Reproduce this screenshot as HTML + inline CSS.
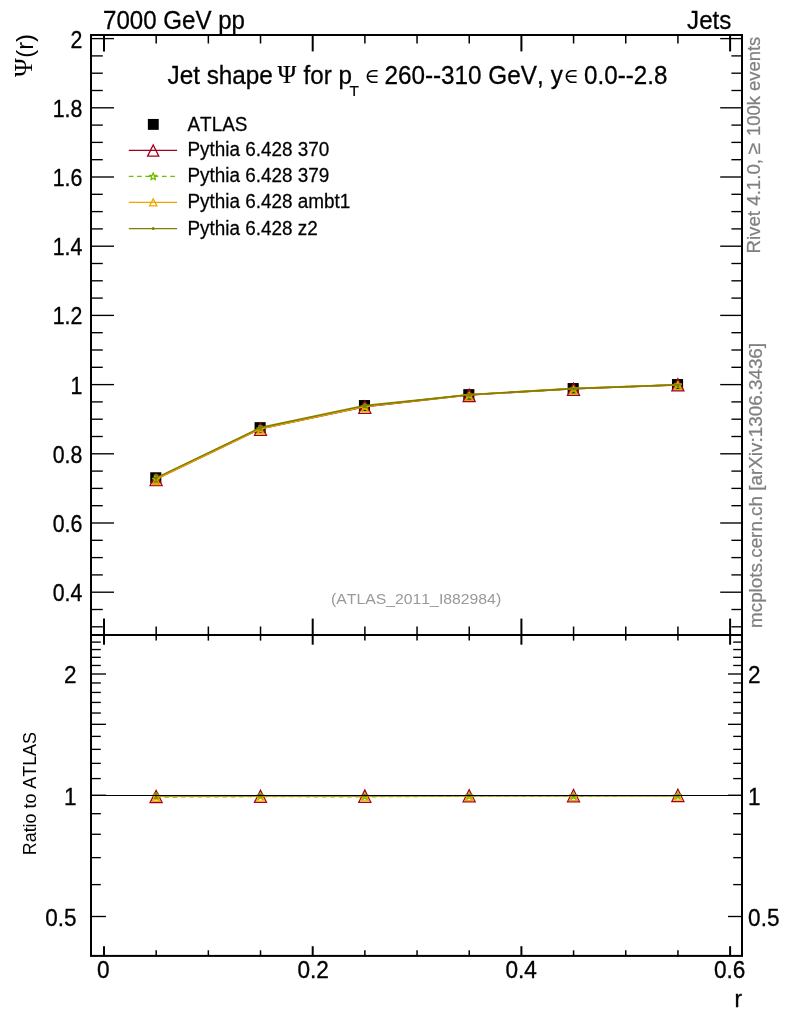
<!DOCTYPE html>
<html lang="en"><head><meta charset="utf-8"><title>Jet shape plot</title>
<style>html,body{margin:0;padding:0;background:#fff;}body{width:786px;height:1024px;overflow:hidden;}svg{display:block;}text{font-family:"Liberation Sans",sans-serif;fill:#000;font-kerning:none;}.sym{font-family:"Liberation Serif",serif;}.in{font-family:"DejaVu Serif",serif;}.g{fill:#808080;stroke:#808080;stroke-width:0.25px;}.g2{fill:#999;}</style>
</head><body>
<svg width="786" height="1024" viewBox="0 0 786 1024" role="img" aria-label="Jet shape plot">
<rect x="0" y="0" width="786" height="1024" fill="#fff"/>
<g stroke="#000" stroke-width="2" fill="none" stroke-linecap="butt">
<rect x="91.0" y="35.0" width="651.0" height="920.9"/>
<line x1="91.0" y1="635.0" x2="742.0" y2="635.0"/>
</g>
<g stroke="#000" fill="none"><line x1="91.00" y1="626.80" x2="102.80" y2="626.80" stroke-width="1.35"/><line x1="731.40" y1="626.80" x2="742.00" y2="626.80" stroke-width="1.35"/><line x1="91.00" y1="609.50" x2="102.80" y2="609.50" stroke-width="1.35"/><line x1="731.40" y1="609.50" x2="742.00" y2="609.50" stroke-width="1.35"/><line x1="91.00" y1="592.20" x2="114.00" y2="592.20" stroke-width="1.35"/><line x1="720.20" y1="592.20" x2="742.00" y2="592.20" stroke-width="1.35"/><line x1="91.00" y1="574.90" x2="102.80" y2="574.90" stroke-width="1.35"/><line x1="731.40" y1="574.90" x2="742.00" y2="574.90" stroke-width="1.35"/><line x1="91.00" y1="557.60" x2="102.80" y2="557.60" stroke-width="1.35"/><line x1="731.40" y1="557.60" x2="742.00" y2="557.60" stroke-width="1.35"/><line x1="91.00" y1="540.30" x2="102.80" y2="540.30" stroke-width="1.35"/><line x1="731.40" y1="540.30" x2="742.00" y2="540.30" stroke-width="1.35"/><line x1="91.00" y1="523.00" x2="114.00" y2="523.00" stroke-width="1.35"/><line x1="720.20" y1="523.00" x2="742.00" y2="523.00" stroke-width="1.35"/><line x1="91.00" y1="505.70" x2="102.80" y2="505.70" stroke-width="1.35"/><line x1="731.40" y1="505.70" x2="742.00" y2="505.70" stroke-width="1.35"/><line x1="91.00" y1="488.40" x2="102.80" y2="488.40" stroke-width="1.35"/><line x1="731.40" y1="488.40" x2="742.00" y2="488.40" stroke-width="1.35"/><line x1="91.00" y1="471.10" x2="102.80" y2="471.10" stroke-width="1.35"/><line x1="731.40" y1="471.10" x2="742.00" y2="471.10" stroke-width="1.35"/><line x1="91.00" y1="453.80" x2="114.00" y2="453.80" stroke-width="1.35"/><line x1="720.20" y1="453.80" x2="742.00" y2="453.80" stroke-width="1.35"/><line x1="91.00" y1="436.50" x2="102.80" y2="436.50" stroke-width="1.35"/><line x1="731.40" y1="436.50" x2="742.00" y2="436.50" stroke-width="1.35"/><line x1="91.00" y1="419.20" x2="102.80" y2="419.20" stroke-width="1.35"/><line x1="731.40" y1="419.20" x2="742.00" y2="419.20" stroke-width="1.35"/><line x1="91.00" y1="401.90" x2="102.80" y2="401.90" stroke-width="1.35"/><line x1="731.40" y1="401.90" x2="742.00" y2="401.90" stroke-width="1.35"/><line x1="91.00" y1="384.60" x2="114.00" y2="384.60" stroke-width="1.35"/><line x1="720.20" y1="384.60" x2="742.00" y2="384.60" stroke-width="1.35"/><line x1="91.00" y1="367.30" x2="102.80" y2="367.30" stroke-width="1.35"/><line x1="731.40" y1="367.30" x2="742.00" y2="367.30" stroke-width="1.35"/><line x1="91.00" y1="350.00" x2="102.80" y2="350.00" stroke-width="1.35"/><line x1="731.40" y1="350.00" x2="742.00" y2="350.00" stroke-width="1.35"/><line x1="91.00" y1="332.70" x2="102.80" y2="332.70" stroke-width="1.35"/><line x1="731.40" y1="332.70" x2="742.00" y2="332.70" stroke-width="1.35"/><line x1="91.00" y1="315.40" x2="114.00" y2="315.40" stroke-width="1.35"/><line x1="720.20" y1="315.40" x2="742.00" y2="315.40" stroke-width="1.35"/><line x1="91.00" y1="298.10" x2="102.80" y2="298.10" stroke-width="1.35"/><line x1="731.40" y1="298.10" x2="742.00" y2="298.10" stroke-width="1.35"/><line x1="91.00" y1="280.80" x2="102.80" y2="280.80" stroke-width="1.35"/><line x1="731.40" y1="280.80" x2="742.00" y2="280.80" stroke-width="1.35"/><line x1="91.00" y1="263.50" x2="102.80" y2="263.50" stroke-width="1.35"/><line x1="731.40" y1="263.50" x2="742.00" y2="263.50" stroke-width="1.35"/><line x1="91.00" y1="246.20" x2="114.00" y2="246.20" stroke-width="1.35"/><line x1="720.20" y1="246.20" x2="742.00" y2="246.20" stroke-width="1.35"/><line x1="91.00" y1="228.90" x2="102.80" y2="228.90" stroke-width="1.35"/><line x1="731.40" y1="228.90" x2="742.00" y2="228.90" stroke-width="1.35"/><line x1="91.00" y1="211.60" x2="102.80" y2="211.60" stroke-width="1.35"/><line x1="731.40" y1="211.60" x2="742.00" y2="211.60" stroke-width="1.35"/><line x1="91.00" y1="194.30" x2="102.80" y2="194.30" stroke-width="1.35"/><line x1="731.40" y1="194.30" x2="742.00" y2="194.30" stroke-width="1.35"/><line x1="91.00" y1="177.00" x2="114.00" y2="177.00" stroke-width="1.35"/><line x1="720.20" y1="177.00" x2="742.00" y2="177.00" stroke-width="1.35"/><line x1="91.00" y1="159.70" x2="102.80" y2="159.70" stroke-width="1.35"/><line x1="731.40" y1="159.70" x2="742.00" y2="159.70" stroke-width="1.35"/><line x1="91.00" y1="142.40" x2="102.80" y2="142.40" stroke-width="1.35"/><line x1="731.40" y1="142.40" x2="742.00" y2="142.40" stroke-width="1.35"/><line x1="91.00" y1="125.10" x2="102.80" y2="125.10" stroke-width="1.35"/><line x1="731.40" y1="125.10" x2="742.00" y2="125.10" stroke-width="1.35"/><line x1="91.00" y1="107.80" x2="114.00" y2="107.80" stroke-width="1.35"/><line x1="720.20" y1="107.80" x2="742.00" y2="107.80" stroke-width="1.35"/><line x1="91.00" y1="90.50" x2="102.80" y2="90.50" stroke-width="1.35"/><line x1="731.40" y1="90.50" x2="742.00" y2="90.50" stroke-width="1.35"/><line x1="91.00" y1="73.20" x2="102.80" y2="73.20" stroke-width="1.35"/><line x1="731.40" y1="73.20" x2="742.00" y2="73.20" stroke-width="1.35"/><line x1="91.00" y1="55.90" x2="102.80" y2="55.90" stroke-width="1.35"/><line x1="731.40" y1="55.90" x2="742.00" y2="55.90" stroke-width="1.35"/><line x1="91.00" y1="38.60" x2="114.00" y2="38.60" stroke-width="1.35"/><line x1="720.20" y1="38.60" x2="742.00" y2="38.60" stroke-width="1.35"/><line x1="104.00" y1="35.00" x2="104.00" y2="51.40" stroke-width="2"/><line x1="104.00" y1="618.60" x2="104.00" y2="635.00" stroke-width="2"/><line x1="104.00" y1="635.00" x2="104.00" y2="644.70" stroke-width="2"/><line x1="104.00" y1="946.20" x2="104.00" y2="955.90" stroke-width="2"/><line x1="156.18" y1="35.00" x2="156.18" y2="43.50" stroke-width="1.5"/><line x1="156.18" y1="626.50" x2="156.18" y2="635.00" stroke-width="1.5"/><line x1="156.18" y1="635.00" x2="156.18" y2="640.60" stroke-width="1.5"/><line x1="156.18" y1="950.30" x2="156.18" y2="955.90" stroke-width="1.5"/><line x1="208.35" y1="35.00" x2="208.35" y2="43.50" stroke-width="1.5"/><line x1="208.35" y1="626.50" x2="208.35" y2="635.00" stroke-width="1.5"/><line x1="208.35" y1="635.00" x2="208.35" y2="640.60" stroke-width="1.5"/><line x1="208.35" y1="950.30" x2="208.35" y2="955.90" stroke-width="1.5"/><line x1="260.53" y1="35.00" x2="260.53" y2="43.50" stroke-width="1.5"/><line x1="260.53" y1="626.50" x2="260.53" y2="635.00" stroke-width="1.5"/><line x1="260.53" y1="635.00" x2="260.53" y2="640.60" stroke-width="1.5"/><line x1="260.53" y1="950.30" x2="260.53" y2="955.90" stroke-width="1.5"/><line x1="312.70" y1="35.00" x2="312.70" y2="51.40" stroke-width="2"/><line x1="312.70" y1="618.60" x2="312.70" y2="635.00" stroke-width="2"/><line x1="312.70" y1="635.00" x2="312.70" y2="644.70" stroke-width="2"/><line x1="312.70" y1="946.20" x2="312.70" y2="955.90" stroke-width="2"/><line x1="364.88" y1="35.00" x2="364.88" y2="43.50" stroke-width="1.5"/><line x1="364.88" y1="626.50" x2="364.88" y2="635.00" stroke-width="1.5"/><line x1="364.88" y1="635.00" x2="364.88" y2="640.60" stroke-width="1.5"/><line x1="364.88" y1="950.30" x2="364.88" y2="955.90" stroke-width="1.5"/><line x1="417.05" y1="35.00" x2="417.05" y2="43.50" stroke-width="1.5"/><line x1="417.05" y1="626.50" x2="417.05" y2="635.00" stroke-width="1.5"/><line x1="417.05" y1="635.00" x2="417.05" y2="640.60" stroke-width="1.5"/><line x1="417.05" y1="950.30" x2="417.05" y2="955.90" stroke-width="1.5"/><line x1="469.23" y1="35.00" x2="469.23" y2="43.50" stroke-width="1.5"/><line x1="469.23" y1="626.50" x2="469.23" y2="635.00" stroke-width="1.5"/><line x1="469.23" y1="635.00" x2="469.23" y2="640.60" stroke-width="1.5"/><line x1="469.23" y1="950.30" x2="469.23" y2="955.90" stroke-width="1.5"/><line x1="521.40" y1="35.00" x2="521.40" y2="51.40" stroke-width="2"/><line x1="521.40" y1="618.60" x2="521.40" y2="635.00" stroke-width="2"/><line x1="521.40" y1="635.00" x2="521.40" y2="644.70" stroke-width="2"/><line x1="521.40" y1="946.20" x2="521.40" y2="955.90" stroke-width="2"/><line x1="573.58" y1="35.00" x2="573.58" y2="43.50" stroke-width="1.5"/><line x1="573.58" y1="626.50" x2="573.58" y2="635.00" stroke-width="1.5"/><line x1="573.58" y1="635.00" x2="573.58" y2="640.60" stroke-width="1.5"/><line x1="573.58" y1="950.30" x2="573.58" y2="955.90" stroke-width="1.5"/><line x1="625.75" y1="35.00" x2="625.75" y2="43.50" stroke-width="1.5"/><line x1="625.75" y1="626.50" x2="625.75" y2="635.00" stroke-width="1.5"/><line x1="625.75" y1="635.00" x2="625.75" y2="640.60" stroke-width="1.5"/><line x1="625.75" y1="950.30" x2="625.75" y2="955.90" stroke-width="1.5"/><line x1="677.93" y1="35.00" x2="677.93" y2="43.50" stroke-width="1.5"/><line x1="677.93" y1="626.50" x2="677.93" y2="635.00" stroke-width="1.5"/><line x1="677.93" y1="635.00" x2="677.93" y2="640.60" stroke-width="1.5"/><line x1="677.93" y1="950.30" x2="677.93" y2="955.90" stroke-width="1.5"/><line x1="730.10" y1="35.00" x2="730.10" y2="51.40" stroke-width="2"/><line x1="730.10" y1="618.60" x2="730.10" y2="635.00" stroke-width="2"/><line x1="730.10" y1="635.00" x2="730.10" y2="644.70" stroke-width="2"/><line x1="730.10" y1="946.20" x2="730.10" y2="955.90" stroke-width="2"/><line x1="91.00" y1="916.50" x2="106.00" y2="916.50" stroke-width="1.35"/><line x1="728.00" y1="916.50" x2="742.00" y2="916.50" stroke-width="1.35"/><line x1="91.00" y1="884.61" x2="100.80" y2="884.61" stroke-width="1.35"/><line x1="733.20" y1="884.61" x2="742.00" y2="884.61" stroke-width="1.35"/><line x1="91.00" y1="857.64" x2="100.80" y2="857.64" stroke-width="1.35"/><line x1="733.20" y1="857.64" x2="742.00" y2="857.64" stroke-width="1.35"/><line x1="91.00" y1="834.28" x2="100.80" y2="834.28" stroke-width="1.35"/><line x1="733.20" y1="834.28" x2="742.00" y2="834.28" stroke-width="1.35"/><line x1="91.00" y1="813.68" x2="100.80" y2="813.68" stroke-width="1.35"/><line x1="733.20" y1="813.68" x2="742.00" y2="813.68" stroke-width="1.35"/><line x1="91.00" y1="795.25" x2="106.00" y2="795.25" stroke-width="1.35"/><line x1="728.00" y1="795.25" x2="742.00" y2="795.25" stroke-width="1.35"/><line x1="91.00" y1="778.58" x2="100.80" y2="778.58" stroke-width="1.35"/><line x1="733.20" y1="778.58" x2="742.00" y2="778.58" stroke-width="1.35"/><line x1="91.00" y1="763.36" x2="100.80" y2="763.36" stroke-width="1.35"/><line x1="733.20" y1="763.36" x2="742.00" y2="763.36" stroke-width="1.35"/><line x1="91.00" y1="749.36" x2="100.80" y2="749.36" stroke-width="1.35"/><line x1="733.20" y1="749.36" x2="742.00" y2="749.36" stroke-width="1.35"/><line x1="91.00" y1="736.39" x2="100.80" y2="736.39" stroke-width="1.35"/><line x1="733.20" y1="736.39" x2="742.00" y2="736.39" stroke-width="1.35"/><line x1="91.00" y1="724.32" x2="106.00" y2="724.32" stroke-width="1.35"/><line x1="728.00" y1="724.32" x2="742.00" y2="724.32" stroke-width="1.35"/><line x1="91.00" y1="713.03" x2="100.80" y2="713.03" stroke-width="1.35"/><line x1="733.20" y1="713.03" x2="742.00" y2="713.03" stroke-width="1.35"/><line x1="91.00" y1="702.43" x2="100.80" y2="702.43" stroke-width="1.35"/><line x1="733.20" y1="702.43" x2="742.00" y2="702.43" stroke-width="1.35"/><line x1="91.00" y1="692.43" x2="100.80" y2="692.43" stroke-width="1.35"/><line x1="733.20" y1="692.43" x2="742.00" y2="692.43" stroke-width="1.35"/><line x1="91.00" y1="682.97" x2="100.80" y2="682.97" stroke-width="1.35"/><line x1="733.20" y1="682.97" x2="742.00" y2="682.97" stroke-width="1.35"/><line x1="91.00" y1="674.00" x2="106.00" y2="674.00" stroke-width="1.35"/><line x1="728.00" y1="674.00" x2="742.00" y2="674.00" stroke-width="1.35"/><line x1="91.00" y1="665.47" x2="100.80" y2="665.47" stroke-width="1.35"/><line x1="733.20" y1="665.47" x2="742.00" y2="665.47" stroke-width="1.35"/><line x1="91.00" y1="657.33" x2="100.80" y2="657.33" stroke-width="1.35"/><line x1="733.20" y1="657.33" x2="742.00" y2="657.33" stroke-width="1.35"/><line x1="91.00" y1="649.55" x2="100.80" y2="649.55" stroke-width="1.35"/><line x1="733.20" y1="649.55" x2="742.00" y2="649.55" stroke-width="1.35"/><line x1="91.00" y1="642.11" x2="100.80" y2="642.11" stroke-width="1.35"/><line x1="733.20" y1="642.11" x2="742.00" y2="642.11" stroke-width="1.35"/></g>
<text transform="translate(82.30,47.60) scale(0.87,1)" font-size="24.5" text-anchor="end" stroke="#000" stroke-width="0.35">2</text>
<text transform="translate(82.30,116.80) scale(0.87,1)" font-size="24.5" text-anchor="end" stroke="#000" stroke-width="0.35">1.8</text>
<text transform="translate(82.30,186.00) scale(0.87,1)" font-size="24.5" text-anchor="end" stroke="#000" stroke-width="0.35">1.6</text>
<text transform="translate(82.30,255.20) scale(0.87,1)" font-size="24.5" text-anchor="end" stroke="#000" stroke-width="0.35">1.4</text>
<text transform="translate(82.30,324.40) scale(0.87,1)" font-size="24.5" text-anchor="end" stroke="#000" stroke-width="0.35">1.2</text>
<text transform="translate(82.30,393.60) scale(0.87,1)" font-size="24.5" text-anchor="end" stroke="#000" stroke-width="0.35">1</text>
<text transform="translate(82.30,462.80) scale(0.87,1)" font-size="24.5" text-anchor="end" stroke="#000" stroke-width="0.35">0.8</text>
<text transform="translate(82.30,532.00) scale(0.87,1)" font-size="24.5" text-anchor="end" stroke="#000" stroke-width="0.35">0.6</text>
<text transform="translate(82.30,601.20) scale(0.87,1)" font-size="24.5" text-anchor="end" stroke="#000" stroke-width="0.35">0.4</text>
<text transform="translate(76.60,683.00) scale(0.955,1)" font-size="23.6" text-anchor="end" stroke="#000" stroke-width="0.3">2</text>
<text transform="translate(748.10,683.00) scale(0.955,1)" font-size="23.6" stroke="#000" stroke-width="0.3">2</text>
<text transform="translate(76.60,804.85) scale(0.955,1)" font-size="23.6" text-anchor="end" stroke="#000" stroke-width="0.3">1</text>
<text transform="translate(748.10,804.85) scale(0.955,1)" font-size="23.6" stroke="#000" stroke-width="0.3">1</text>
<text transform="translate(76.60,925.50) scale(0.955,1)" font-size="23.6" text-anchor="end" stroke="#000" stroke-width="0.3">0.5</text>
<text transform="translate(748.10,925.50) scale(0.955,1)" font-size="23.6" stroke="#000" stroke-width="0.3">0.5</text>
<text transform="translate(103.30,978.20) scale(0.912,1)" font-size="24.8" text-anchor="middle" stroke="#000" stroke-width="0.35">0</text>
<text transform="translate(313.10,978.20) scale(0.912,1)" font-size="24.8" text-anchor="middle" stroke="#000" stroke-width="0.35">0.2</text>
<text transform="translate(521.20,978.20) scale(0.912,1)" font-size="24.8" text-anchor="middle" stroke="#000" stroke-width="0.35">0.4</text>
<text transform="translate(729.60,978.20) scale(0.912,1)" font-size="24.8" text-anchor="middle" stroke="#000" stroke-width="0.35">0.6</text>
<text transform="translate(742.00,1007.00) scale(0.912,1)" font-size="24.8" text-anchor="end" stroke="#000" stroke-width="0.35">r</text>
<text transform="translate(103.00,28.70) scale(0.92,1)" font-size="26.2" stroke="#000" stroke-width="0.3">7000 GeV pp</text>
<text transform="translate(731.30,28.70) scale(0.92,1)" font-size="26.2" text-anchor="end" stroke="#000" stroke-width="0.3">Jets</text>
<text transform="translate(167.60,84.00) scale(0.9238016528925621,1)" font-size="26.3" stroke="#000" stroke-width="0.3">Jet shape</text>
<text class="sym" transform="translate(277.50,83.00)" font-size="25.5" stroke="#000" stroke-width="0.2">Ψ</text>
<text transform="translate(303.60,84.00) scale(0.92,1)" font-size="26.3" stroke="#000" stroke-width="0.3">for p</text>
<text transform="translate(349.50,96.00) scale(1.04,1)" font-size="14.8" stroke="#000" stroke-width="0.2">T</text>
<text class="in" transform="translate(364.40,83.40)" font-size="20.8">∈</text>
<text transform="translate(384.40,84.00) scale(0.9238016528925621,1)" font-size="26.3" stroke="#000" stroke-width="0.3">260--310 GeV,</text>
<text transform="translate(550.80,84.00) scale(0.92,1)" font-size="26.3" stroke="#000" stroke-width="0.3">y</text>
<text class="in" transform="translate(563.40,83.40)" font-size="20.8">∈</text>
<text transform="translate(584.10,84.00) scale(0.92,1)" font-size="26.3" stroke="#000" stroke-width="0.3">0.0--2.8</text>
<text class="sym" transform="translate(32.2,77.1) rotate(-90) scale(0.985,1)" font-size="25.8">Ψ</text>
<text transform="translate(32.7,57.8) rotate(-90)" font-size="23.9">(r)</text>
<text transform="translate(36.3,855.2) rotate(-90) scale(0.977,1)" font-size="18.3">Ratio to ATLAS</text>
<text class="g" transform="translate(760.2,253.6) rotate(-90) scale(0.975,1)" font-size="19.2">Rivet 4.1.0,</text>
<text class="g" transform="translate(760.2,154.5) rotate(-90) scale(1.1,1)" font-size="19.2">≥</text>
<text class="g" transform="translate(760.2,135.9) rotate(-90) scale(0.958,1)" font-size="19.2">100k events</text>
<text class="g" transform="translate(762.3,628) rotate(-90) scale(0.998,1)" font-size="18.9">mcplots.cern.ch [arXiv:1306.3436]</text>
<text class="g2" transform="translate(416.1,604.2) scale(1.025,1)" font-size="15.4" text-anchor="middle">(ATLAS_2011_I882984)</text>
<text transform="translate(187.50,130.50) scale(0.945,1)" font-size="20.0" stroke="#000" stroke-width="0.25">ATLAS</text>
<text transform="translate(187.50,156.45) scale(0.945,1)" font-size="20.0" stroke="#000" stroke-width="0.25">Pythia 6.428 370</text>
<text transform="translate(187.50,182.43) scale(0.945,1)" font-size="20.0" stroke="#000" stroke-width="0.25">Pythia 6.428 379</text>
<text transform="translate(187.50,208.43) scale(0.945,1)" font-size="20.0" stroke="#000" stroke-width="0.25">Pythia 6.428 ambt1</text>
<text transform="translate(187.50,234.55) scale(0.945,1)" font-size="20.0" stroke="#000" stroke-width="0.25">Pythia 6.428 z2</text>
<rect x="147.85" y="118.95" width="10.9" height="10.9" fill="#000"/>
<line x1="128.8" y1="150.45" x2="177.1" y2="150.45" stroke="#a2001f" stroke-width="1.2"/><path d="M147.60 156.10L153.20 144.90L158.80 156.10Z" fill="none" stroke="#a2001f" stroke-width="1.3" stroke-linejoin="miter"/>
<line x1="128.8" y1="176.43" x2="177.1" y2="176.43" stroke="#6fbf00" stroke-width="1.2" stroke-dasharray="4.6 3.7"/><path d="M153.20 172.73L154.12 175.37L156.91 175.42L154.68 177.11L155.49 179.79L153.20 178.19L150.91 179.79L151.72 177.11L149.49 175.42L152.28 175.37Z" fill="none" stroke="#6fbf00" stroke-width="1.3" stroke-linejoin="round"/>
<line x1="128.8" y1="202.43" x2="177.1" y2="202.43" stroke="#f2a500" stroke-width="1.2"/><path d="M149.45 205.93L153.20 198.93L156.95 205.93Z" fill="none" stroke="#f2a500" stroke-width="1.25" stroke-linejoin="miter"/>
<line x1="128.8" y1="228.55" x2="177.1" y2="228.55" stroke="#808000" stroke-width="1.2"/><circle cx="153.20" cy="228.55" r="1.5" fill="#808000"/>
<g>
<rect x="150.22" y="472.26" width="11.1" height="11.1" fill="#000"/>
<rect x="254.57" y="422.16" width="11.1" height="11.1" fill="#000"/>
<rect x="358.93" y="400.05" width="11.1" height="11.1" fill="#000"/>
<rect x="463.27" y="389.15" width="11.1" height="11.1" fill="#000"/>
<rect x="567.63" y="383.06" width="11.1" height="11.1" fill="#000"/>
<rect x="671.98" y="379.05" width="11.1" height="11.1" fill="#000"/>
<polyline points="156.12,478.92 260.47,428.81 364.82,406.64 469.17,394.87 573.53,388.75 677.88,384.85" fill="none" stroke="#a2001f" stroke-width="1.6"/><path d="M156.12 476.22V483.21M153.82 476.22H158.43M153.82 483.21H158.43" fill="none" stroke="#a2001f" stroke-width="1.15"/><path d="M260.47 427.54V431.69M258.17 427.54H262.77M258.17 431.69H262.77" fill="none" stroke="#a2001f" stroke-width="1.15"/><path d="M364.82 405.95V408.92M362.52 405.95H367.12M362.52 408.92H367.12" fill="none" stroke="#a2001f" stroke-width="1.15"/><path d="M469.17 394.63V396.71M466.87 394.63H471.47M466.87 396.71H471.47" fill="none" stroke="#a2001f" stroke-width="1.15"/><path d="M573.53 388.86V390.24M571.23 388.86H575.83M571.23 390.24H575.83" fill="none" stroke="#a2001f" stroke-width="1.15"/><path d="M675.58 385.05H680.18" fill="none" stroke="#a2001f" stroke-width="1.15"/><path d="M150.12 485.57L156.12 473.37L162.12 485.57Z" fill="none" stroke="#a2001f" stroke-width="1.3" stroke-linejoin="miter"/><path d="M254.47 435.46L260.47 423.26L266.47 435.46Z" fill="none" stroke="#a2001f" stroke-width="1.3" stroke-linejoin="miter"/><path d="M358.82 413.29L364.82 401.09L370.82 413.29Z" fill="none" stroke="#a2001f" stroke-width="1.3" stroke-linejoin="miter"/><path d="M463.17 401.52L469.17 389.32L475.17 401.52Z" fill="none" stroke="#a2001f" stroke-width="1.3" stroke-linejoin="miter"/><path d="M567.53 395.40L573.53 383.20L579.53 395.40Z" fill="none" stroke="#a2001f" stroke-width="1.3" stroke-linejoin="miter"/><path d="M671.88 390.90L677.88 378.70L683.88 390.90Z" fill="none" stroke="#a2001f" stroke-width="1.3" stroke-linejoin="miter"/>
<polyline points="156.12,478.53 260.47,428.26 364.82,406.46 469.17,394.77 573.53,388.64 677.88,384.82" fill="none" stroke="#6fbf00" stroke-width="1.6" stroke-dasharray="4.6 3.7"/><path d="M156.12 475.84V482.83M153.82 475.84H158.43M153.82 482.83H158.43" fill="none" stroke="#6fbf00" stroke-width="1.15"/><path d="M260.47 426.99V431.14M258.17 426.99H262.77M258.17 431.14H262.77" fill="none" stroke="#6fbf00" stroke-width="1.15"/><path d="M364.82 405.78V408.75M362.52 405.78H367.12M362.52 408.75H367.12" fill="none" stroke="#6fbf00" stroke-width="1.15"/><path d="M469.17 394.53V396.61M466.87 394.53H471.47M466.87 396.61H471.47" fill="none" stroke="#6fbf00" stroke-width="1.15"/><path d="M573.53 388.75V390.14M571.23 388.75H575.83M571.23 390.14H575.83" fill="none" stroke="#6fbf00" stroke-width="1.15"/><path d="M675.58 385.02H680.18" fill="none" stroke="#6fbf00" stroke-width="1.15"/><path d="M156.12 475.63L157.04 478.27L159.83 478.33L157.61 480.02L158.42 482.69L156.12 481.09L153.83 482.69L154.64 480.02L152.42 478.33L155.21 478.27Z" fill="none" stroke="#6fbf00" stroke-width="1.3" stroke-linejoin="round"/><path d="M260.47 425.36L261.39 428.00L264.18 428.06L261.96 429.74L262.77 432.42L260.47 430.82L258.18 432.42L258.99 429.74L256.77 428.06L259.56 428.00Z" fill="none" stroke="#6fbf00" stroke-width="1.3" stroke-linejoin="round"/><path d="M364.82 403.56L365.74 406.20L368.53 406.26L366.31 407.95L367.12 410.62L364.82 409.02L362.53 410.62L363.34 407.95L361.12 406.26L363.91 406.20Z" fill="none" stroke="#6fbf00" stroke-width="1.3" stroke-linejoin="round"/><path d="M469.17 391.87L470.09 394.51L472.88 394.56L470.66 396.25L471.47 398.92L469.17 397.33L466.88 398.92L467.69 396.25L465.47 394.56L468.26 394.51Z" fill="none" stroke="#6fbf00" stroke-width="1.3" stroke-linejoin="round"/><path d="M573.53 385.74L574.44 388.38L577.23 388.44L575.01 390.13L575.82 392.80L573.53 391.20L571.23 392.80L572.04 390.13L569.82 388.44L572.61 388.38Z" fill="none" stroke="#6fbf00" stroke-width="1.3" stroke-linejoin="round"/><path d="M677.88 381.32L678.79 383.95L681.58 384.01L679.36 385.70L680.17 388.37L677.88 386.78L675.58 388.37L676.39 385.70L674.17 384.01L676.96 383.95Z" fill="none" stroke="#6fbf00" stroke-width="1.3" stroke-linejoin="round"/>
<polyline points="156.12,479.07 260.47,428.73 364.82,406.48 469.17,394.65 573.53,388.42 677.88,384.78" fill="none" stroke="#f2a500" stroke-width="1.6"/><path d="M156.12 476.77V483.76M153.82 476.77H158.43M153.82 483.76H158.43" fill="none" stroke="#f2a500" stroke-width="1.15"/><path d="M260.47 427.85V432.00M258.17 427.85H262.77M258.17 432.00H262.77" fill="none" stroke="#f2a500" stroke-width="1.15"/><path d="M364.82 406.19V409.17M362.52 406.19H367.12M362.52 409.17H367.12" fill="none" stroke="#f2a500" stroke-width="1.15"/><path d="M469.17 394.81V396.88M466.87 394.81H471.47M466.87 396.88H471.47" fill="none" stroke="#f2a500" stroke-width="1.15"/><path d="M573.53 388.93V390.31M571.23 388.93H575.83M571.23 390.31H575.83" fill="none" stroke="#f2a500" stroke-width="1.15"/><path d="M675.58 385.08H680.18" fill="none" stroke="#f2a500" stroke-width="1.15"/><path d="M152.22 484.57L156.12 477.37L160.03 484.57Z" fill="none" stroke="#f2a500" stroke-width="1.25" stroke-linejoin="miter"/><path d="M256.57 434.23L260.47 427.03L264.37 434.23Z" fill="none" stroke="#f2a500" stroke-width="1.25" stroke-linejoin="miter"/><path d="M360.93 411.98L364.82 404.78L368.72 411.98Z" fill="none" stroke="#f2a500" stroke-width="1.25" stroke-linejoin="miter"/><path d="M465.27 400.15L469.17 392.94L473.07 400.15Z" fill="none" stroke="#f2a500" stroke-width="1.25" stroke-linejoin="miter"/><path d="M569.63 393.92L573.53 386.72L577.43 393.92Z" fill="none" stroke="#f2a500" stroke-width="1.25" stroke-linejoin="miter"/><path d="M673.98 389.38L677.88 382.18L681.78 389.38Z" fill="none" stroke="#f2a500" stroke-width="1.25" stroke-linejoin="miter"/>
<polyline points="156.12,477.89 260.47,427.62 364.82,405.58 469.17,394.68 573.53,388.62 677.88,384.80" fill="none" stroke="#808000" stroke-width="1.6"/><path d="M156.12 474.70V481.69M153.82 474.70H158.43M153.82 481.69H158.43" fill="none" stroke="#808000" stroke-width="1.15"/><path d="M260.47 425.84V430.00M258.17 425.84H262.77M258.17 430.00H262.77" fill="none" stroke="#808000" stroke-width="1.15"/><path d="M364.82 404.39V407.37M362.52 404.39H367.12M362.52 407.37H367.12" fill="none" stroke="#808000" stroke-width="1.15"/><path d="M469.17 393.94V396.02M466.87 393.94H471.47M466.87 396.02H471.47" fill="none" stroke="#808000" stroke-width="1.15"/><path d="M573.53 388.23V389.62M571.23 388.23H575.83M571.23 389.62H575.83" fill="none" stroke="#808000" stroke-width="1.15"/><path d="M675.58 384.88H680.18" fill="none" stroke="#808000" stroke-width="1.15"/><circle cx="156.12" cy="478.19" r="1.5" fill="#808000"/><circle cx="260.47" cy="427.92" r="1.5" fill="#808000"/><circle cx="364.82" cy="405.88" r="1.5" fill="#808000"/><circle cx="469.17" cy="394.98" r="1.5" fill="#808000"/><circle cx="573.53" cy="388.93" r="1.5" fill="#808000"/><circle cx="677.88" cy="384.88" r="1.5" fill="#808000"/>
</g>
<g>
<polyline points="156.12,795.95 260.47,795.88 364.82,795.85 469.17,795.70 573.53,795.69 677.88,795.62" fill="none" stroke="#a2001f" stroke-width="1.15"/><path d="M156.12 794.35V799.23M153.82 794.35H158.43M153.82 799.23H158.43" fill="none" stroke="#a2001f" stroke-width="1.15"/><path d="M260.47 795.35V797.76M258.17 795.35H262.77M258.17 797.76H262.77" fill="none" stroke="#a2001f" stroke-width="1.15"/><path d="M364.82 795.64V797.25M362.52 795.64H367.12M362.52 797.25H367.12" fill="none" stroke="#a2001f" stroke-width="1.15"/><path d="M469.17 795.41V796.50M466.87 795.41H471.47M466.87 796.50H471.47" fill="none" stroke="#a2001f" stroke-width="1.15"/><path d="M573.53 795.57V796.28M571.23 795.57H575.83M571.23 796.28H575.83" fill="none" stroke="#a2001f" stroke-width="1.15"/><path d="M675.58 795.68H680.18" fill="none" stroke="#a2001f" stroke-width="1.15"/><path d="M150.12 802.62L156.12 790.42L162.12 802.62Z" fill="none" stroke="#a2001f" stroke-width="1.3" stroke-linejoin="miter"/><path d="M254.47 802.40L260.47 790.20L266.47 802.40Z" fill="none" stroke="#a2001f" stroke-width="1.3" stroke-linejoin="miter"/><path d="M358.82 802.29L364.82 790.09L370.82 802.29Z" fill="none" stroke="#a2001f" stroke-width="1.3" stroke-linejoin="miter"/><path d="M463.17 801.81L469.17 789.61L475.17 801.81Z" fill="none" stroke="#a2001f" stroke-width="1.3" stroke-linejoin="miter"/><path d="M567.53 801.78L573.53 789.58L579.53 801.78Z" fill="none" stroke="#a2001f" stroke-width="1.3" stroke-linejoin="miter"/><path d="M671.88 801.53L677.88 789.33L683.88 801.53Z" fill="none" stroke="#a2001f" stroke-width="1.3" stroke-linejoin="miter"/>
<polyline points="156.12,797.14 260.47,796.72 364.82,796.89 469.17,796.23 573.53,796.19 677.88,795.87" fill="none" stroke="#6fbf00" stroke-width="1.15" stroke-dasharray="4.6 3.7"/><path d="M156.12 794.09V798.96M153.82 794.09H158.43M153.82 798.96H158.43" fill="none" stroke="#6fbf00" stroke-width="1.15"/><path d="M260.47 795.03V797.44M258.17 795.03H262.77M258.17 797.44H262.77" fill="none" stroke="#6fbf00" stroke-width="1.15"/><path d="M364.82 795.54V797.15M362.52 795.54H367.12M362.52 797.15H367.12" fill="none" stroke="#6fbf00" stroke-width="1.15"/><path d="M469.17 795.36V796.44M466.87 795.36H471.47M466.87 796.44H471.47" fill="none" stroke="#6fbf00" stroke-width="1.15"/><path d="M573.53 795.52V796.23M571.23 795.52H575.83M571.23 796.23H575.83" fill="none" stroke="#6fbf00" stroke-width="1.15"/><path d="M675.58 795.66H680.18" fill="none" stroke="#6fbf00" stroke-width="1.15"/><path d="M156.12 792.81L157.04 795.44L159.83 795.50L157.61 797.19L158.42 799.86L156.12 798.27L153.83 799.86L154.64 797.19L152.42 795.50L155.21 795.44Z" fill="none" stroke="#6fbf00" stroke-width="1.3" stroke-linejoin="round"/><path d="M260.47 792.53L261.39 795.17L264.18 795.23L261.96 796.91L262.77 799.59L260.47 797.99L258.18 799.59L258.99 796.91L256.77 795.23L259.56 795.17Z" fill="none" stroke="#6fbf00" stroke-width="1.3" stroke-linejoin="round"/><path d="M364.82 792.65L365.74 795.28L368.53 795.34L366.31 797.03L367.12 799.70L364.82 798.11L362.53 799.70L363.34 797.03L361.12 795.34L363.91 795.28Z" fill="none" stroke="#6fbf00" stroke-width="1.3" stroke-linejoin="round"/><path d="M469.17 792.20L470.09 794.84L472.88 794.90L470.66 796.58L471.47 799.26L469.17 797.66L466.88 799.26L467.69 796.58L465.47 794.90L468.26 794.84Z" fill="none" stroke="#6fbf00" stroke-width="1.3" stroke-linejoin="round"/><path d="M573.53 792.18L574.44 794.81L577.23 794.87L575.01 796.56L575.82 799.23L573.53 797.64L571.23 799.23L572.04 796.56L569.82 794.87L572.61 794.81Z" fill="none" stroke="#6fbf00" stroke-width="1.3" stroke-linejoin="round"/><path d="M677.88 791.96L678.79 794.60L681.58 794.65L679.36 796.34L680.17 799.02L677.88 797.42L675.58 799.02L676.39 796.34L674.17 794.65L676.96 794.60Z" fill="none" stroke="#6fbf00" stroke-width="1.3" stroke-linejoin="round"/>
<polyline points="156.12,796.15 260.47,796.00 364.82,795.94 469.17,795.76 573.53,795.73 677.88,795.64" fill="none" stroke="#f2a500" stroke-width="1.15"/><path d="M156.12 794.73V799.62M153.82 794.73H158.43M153.82 799.62H158.43" fill="none" stroke="#f2a500" stroke-width="1.15"/><path d="M260.47 795.53V797.95M258.17 795.53H262.77M258.17 797.95H262.77" fill="none" stroke="#f2a500" stroke-width="1.15"/><path d="M364.82 795.77V797.38M362.52 795.77H367.12M362.52 797.38H367.12" fill="none" stroke="#f2a500" stroke-width="1.15"/><path d="M469.17 795.50V796.59M466.87 795.50H471.47M466.87 796.59H471.47" fill="none" stroke="#f2a500" stroke-width="1.15"/><path d="M573.53 795.61V796.32M571.23 795.61H575.83M571.23 796.32H575.83" fill="none" stroke="#f2a500" stroke-width="1.15"/><path d="M675.58 795.70H680.18" fill="none" stroke="#f2a500" stroke-width="1.15"/><path d="M152.22 801.46L156.12 794.26L160.03 801.46Z" fill="none" stroke="#f2a500" stroke-width="1.25" stroke-linejoin="miter"/><path d="M256.57 801.03L260.47 793.83L264.37 801.03Z" fill="none" stroke="#f2a500" stroke-width="1.25" stroke-linejoin="miter"/><path d="M360.93 800.87L364.82 793.67L368.72 800.87Z" fill="none" stroke="#f2a500" stroke-width="1.25" stroke-linejoin="miter"/><path d="M465.27 800.35L469.17 793.15L473.07 800.35Z" fill="none" stroke="#f2a500" stroke-width="1.25" stroke-linejoin="miter"/><path d="M569.63 800.26L573.53 793.06L577.43 800.26Z" fill="none" stroke="#f2a500" stroke-width="1.25" stroke-linejoin="miter"/><path d="M673.98 800.00L677.88 792.80L681.78 800.00Z" fill="none" stroke="#f2a500" stroke-width="1.25" stroke-linejoin="miter"/>
<polyline points="156.12,795.71 260.47,795.62 364.82,795.64 469.17,795.64 573.53,795.65 677.88,795.63" fill="none" stroke="#808000" stroke-width="1.15"/><path d="M156.12 793.31V798.15M153.82 793.31H158.43M153.82 798.15H158.43" fill="none" stroke="#808000" stroke-width="1.15"/><path d="M260.47 794.37V796.77M258.17 794.37H262.77M258.17 796.77H262.77" fill="none" stroke="#808000" stroke-width="1.15"/><path d="M364.82 794.80V796.40M362.52 794.80H367.12M362.52 796.40H367.12" fill="none" stroke="#808000" stroke-width="1.15"/><path d="M469.17 795.05V796.14M466.87 795.05H471.47M466.87 796.14H471.47" fill="none" stroke="#808000" stroke-width="1.15"/><path d="M573.53 795.26V795.96M571.23 795.26H575.83M571.23 795.96H575.83" fill="none" stroke="#808000" stroke-width="1.15"/><path d="M675.58 795.59H680.18" fill="none" stroke="#808000" stroke-width="1.15"/><circle cx="156.12" cy="795.71" r="1.5" fill="#808000"/><circle cx="260.47" cy="795.57" r="1.5" fill="#808000"/><circle cx="364.82" cy="795.60" r="1.5" fill="#808000"/><circle cx="469.17" cy="795.59" r="1.5" fill="#808000"/><circle cx="573.53" cy="795.61" r="1.5" fill="#808000"/><circle cx="677.88" cy="795.59" r="1.5" fill="#808000"/>
<line x1="91.0" y1="795.5" x2="742.0" y2="795.5" stroke="#000" stroke-width="1.1"/>
</g>
</svg>
</body></html>
